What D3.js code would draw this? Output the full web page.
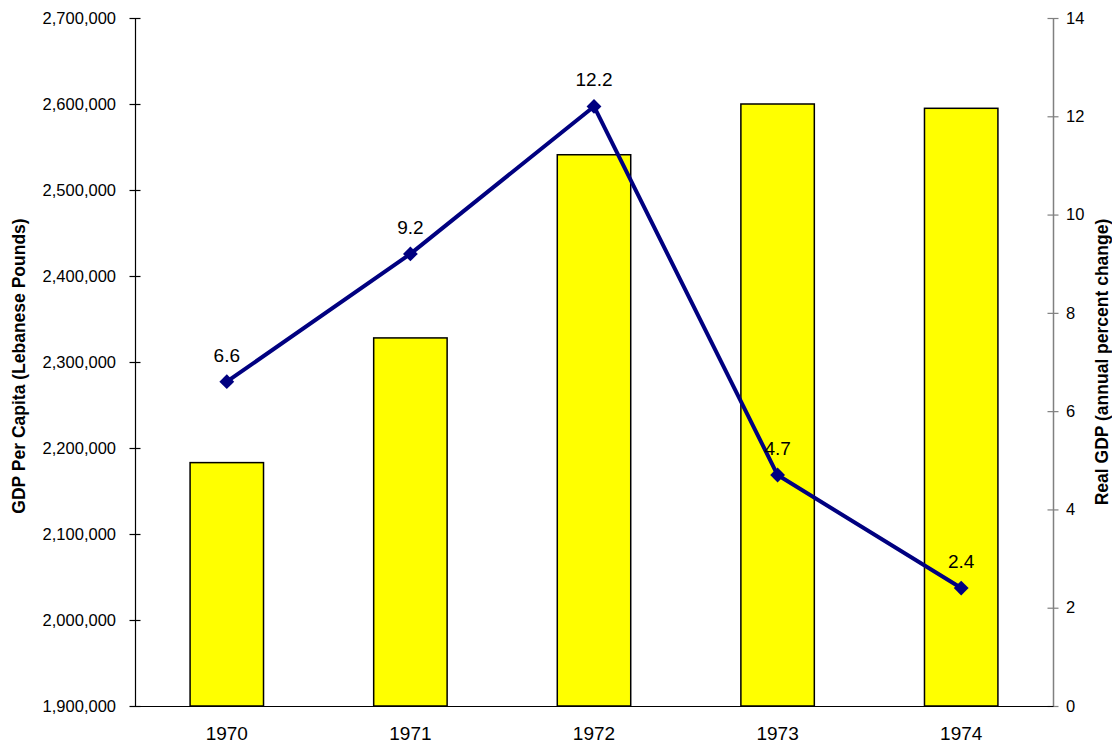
<!DOCTYPE html>
<html>
<head>
<meta charset="utf-8">
<script src="https://cdn.jsdelivr.net/npm/d3@7/dist/d3.min.js"></script>
<style>
  html, body { margin: 0; padding: 0; background: #fff; }
  svg text { font-family: "Liberation Sans", Arial, sans-serif; fill: #000; }
</style>
</head>
<body>
<svg id="chart" width="1112" height="746"></svg>
<script>
// GDP per capita (bars, left axis) and real GDP growth (line, right axis)
const years = ["1970", "1971", "1972", "1973", "1974"];
const gdpPerCapita = [2183000, 2328000, 2541000, 2600000, 2595000];
const realGdpGrowth = [6.6, 9.2, 12.2, 4.7, 2.4];
const leftTicks = [1900000, 2000000, 2100000, 2200000, 2300000, 2400000, 2500000, 2600000, 2700000];
const rightTicks = [0, 2, 4, 6, 8, 10, 12, 14];

const svg = d3.select("#chart");
const plot = { left: 135, right: 1053, top: 18, bottom: 706 };

const x = d3.scaleBand().domain(years)
  .range([plot.left, plot.right]).paddingInner(0.6).paddingOuter(0.3);
const yL = d3.scaleLinear().domain([1900000, 2700000]).range([plot.bottom, plot.top]);
const yR = d3.scaleLinear().domain([0, 14]).range([plot.bottom, plot.top]);

// Bars
svg.append("g").selectAll("rect").data(years).join("rect")
  .attr("x", d => x(d))
  .attr("y", (d, i) => yL(gdpPerCapita[i]))
  .attr("width", x.bandwidth())
  .attr("height", (d, i) => plot.bottom - yL(gdpPerCapita[i]))
  .attr("fill", "#ffff00")
  .attr("stroke", "#000")
  .attr("stroke-width", 1.5);

// Left axis
const fmt = d3.format(",");
const axL = svg.append("g").attr("transform", `translate(${plot.left},0)`)
  .call(d3.axisLeft(yL).tickValues(leftTicks).tickFormat(fmt).tickSizeInner(0).tickSizeOuter(0).tickPadding(19));
axL.select(".domain").attr("stroke", "#000").attr("stroke-width", 1.2);
axL.selectAll(".tick text").attr("font-size", 16.5).style("font-family", '"Liberation Sans", Arial, sans-serif');
axL.selectAll(".tick").append("line").attr("x1", -5.5).attr("x2", 5.5).attr("stroke", "#000").attr("stroke-width", 1.2);

// Right axis
const axR = svg.append("g").attr("transform", `translate(${plot.right},0)`)
  .call(d3.axisRight(yR).tickValues(rightTicks).tickSizeInner(0).tickSizeOuter(0).tickPadding(13));
axR.select(".domain").attr("stroke", "#808080").attr("stroke-width", 1.5);
axR.selectAll(".tick text").attr("font-size", 16.5).style("font-family", '"Liberation Sans", Arial, sans-serif');
axR.selectAll(".tick").append("line").attr("x1", -5.5).attr("x2", 5.5).attr("stroke", "#808080").attr("stroke-width", 1.2);

// Category axis
const axB = svg.append("g").attr("transform", `translate(0,${plot.bottom})`)
  .call(d3.axisBottom(x).tickSize(0).tickSizeOuter(0).tickPadding(21));
axB.select(".domain").attr("stroke", "#000").attr("stroke-width", 1.2);
axB.selectAll(".tick text").attr("font-size", 19).style("font-family", '"Liberation Sans", Arial, sans-serif');

// Growth line
const cx = d => x(d) + x.bandwidth() / 2;
const line = d3.line().x((d, i) => cx(years[i])).y(d => yR(d));
svg.append("path").datum(realGdpGrowth)
  .attr("d", line)
  .attr("fill", "none")
  .attr("stroke", "#000080")
  .attr("stroke-width", 4)
  .attr("stroke-linejoin", "round");

svg.append("g").selectAll("path").data(realGdpGrowth).join("path")
  .attr("d", d3.symbol(d3.symbolSquare, 110))
  .attr("transform", (d, i) => `translate(${cx(years[i])},${yR(d)}) rotate(45)`)
  .attr("fill", "#000080");

svg.append("g").selectAll("text").data(realGdpGrowth).join("text")
  .attr("x", (d, i) => cx(years[i]))
  .attr("y", d => yR(d) - 20)
  .attr("text-anchor", "middle")
  .attr("font-size", 19)
  .text(d => d.toFixed(1));

// Axis titles
svg.append("text")
  .attr("transform", `translate(25,366) rotate(-90)`)
  .attr("text-anchor", "middle")
  .attr("font-size", 17.5)
  .attr("font-weight", "bold")
  .text("GDP Per Capita (Lebanese Pounds)");

svg.append("text")
  .attr("transform", `translate(1108,362) rotate(-90)`)
  .attr("text-anchor", "middle")
  .attr("font-size", 17.5)
  .attr("font-weight", "bold")
  .text("Real GDP (annual percent change)");
</script>
</body>
</html>
